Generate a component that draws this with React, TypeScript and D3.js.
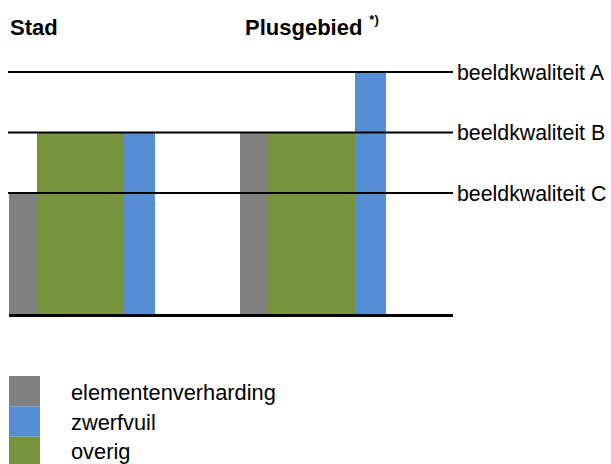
import React from "react";
import * as d3 from "d3";

const groups = ["Stad", "Plusgebied"];
const seriesNames = ["elementenverharding", "overig", "zwerfvuil"];
const elementenverharding = [2, 3];
const overig = [3, 3];
const zwerfvuil = [3, 4];
const levelNames = ["beeldkwaliteit A", "beeldkwaliteit B", "beeldkwaliteit C"];
const levelValues = [4, 3, 2];
const legendOrder = ["elementenverharding", "zwerfvuil", "overig"];

const colors: Record<string, string> = {
  elementenverharding: "#808080",
  overig: "#77933C",
  zwerfvuil: "#558ED5",
};
const relWidths: Record<string, number> = {
  elementenverharding: 28,
  overig: 87,
  zwerfvuil: 31,
};

const W = 611;
const H = 464;
const FONT = "'Liberation Sans', Arial, sans-serif";
const FS = 21.33;

export default function App() {
  const values: Record<string, number[]> = { elementenverharding, overig, zwerfvuil };
  const y = d3.scaleLinear().domain([0, 4]).range([314, 72]);
  const xGroup = d3.scaleBand<string>().domain(groups).range([9, 386]).paddingInner(0.368).paddingOuter(0);
  const bw = xGroup.bandwidth();
  const totalRel = d3.sum(seriesNames, (s) => relWidths[s]);
  const cum: number[] = [];
  let acc = 0;
  seriesNames.forEach((s) => {
    cum.push(acc);
    acc += relWidths[s];
  });
  const xInner = d3.scaleLinear().domain([0, totalRel]).range([0, bw]);
  const lineX0 = 8;
  const lineX1 = 453;

  return (
    <svg width={W} height={H} style={{ position: "absolute", left: 0, top: 0 }} fontFamily={FONT}>
      <rect width={W} height={H} fill="#fff" />
      {/* group titles */}
      <text x={10} y={35} fontSize={22} fontWeight="bold" fill="#000">Stad</text>
      <text x={245} y={35} fontSize={22} fontWeight="bold" fill="#000">
        Plusgebied
        <tspan dx={7} dy={-11} fontSize={13}>*)</tspan>
      </text>
      {/* bars */}
      {groups.map((g, gi) =>
        seriesNames.map((s, si) => {
          const x0 = (xGroup(g) as number) + xInner(cum[si]);
          const w = xInner(relWidths[s]);
          const v = values[s][gi];
          return (
            <rect key={g + s} x={x0} y={y(v)} width={w} height={y(0) - y(v)} fill={colors[s]} />
          );
        })
      )}
      {/* level lines */}
      {levelValues.map((v, i) => (
        <g key={levelNames[i]}>
          <line x1={lineX0} x2={lineX1} y1={y(v)} y2={y(v)} stroke="#000" strokeWidth={2} />
          <text x={457} y={y(v) + 7.5} fontSize={FS} fill="#000">{levelNames[i]}</text>
        </g>
      ))}
      {/* baseline */}
      <line x1={9} x2={453} y1={y(0) + 1.5} y2={y(0) + 1.5} stroke="#000" strokeWidth={3} />
      {/* legend */}
      {legendOrder.map((s, i) => (
        <g key={s}>
          <rect x={9} y={376 + i * 30.3} width={31} height={30.3} fill={colors[s]} />
          <text x={71} y={400 + i * 29.5} fontSize={21.8} fill="#000">{s}</text>
        </g>
      ))}
    </svg>
  );
}
